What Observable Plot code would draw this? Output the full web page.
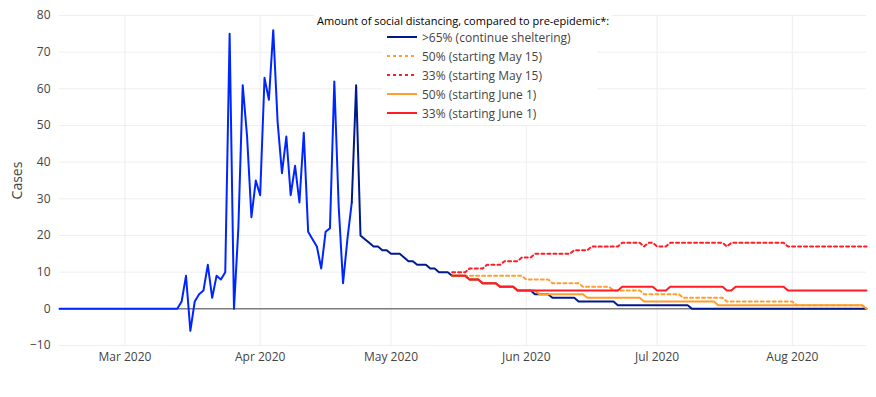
<!DOCTYPE html>
<html>
<head>
<meta charset="utf-8">
<script src="https://cdn.jsdelivr.net/npm/d3@7"></script>
<script src="https://cdn.jsdelivr.net/npm/@observablehq/plot@0.6"></script>
<style>
html, body { margin: 0; padding: 0; background: #fff; }
#wrap { position: relative; width: 876px; height: 397px; font-family: "Open Sans", sans-serif; }
.lg-title { position: absolute; left: 314px; top: 13px; padding: 0 3px; height: 16px; background: #fff; font-size: 11px; color: #000; line-height: 16px; white-space: nowrap; }
.lg-box { position: absolute; left: 383px; top: 28px; width: 214px; height: 97px; background: #fff; }
.lg-item { position: absolute; left: 4px; height: 19px; display: flex; align-items: center; font-size: 12px; color: #444; white-space: nowrap; }
.lg-item svg { margin-right: 5px; }
</style>
</head>
<body>
<div id="wrap"></div>
<script>
// ---------- data (daily values) ----------
const observedStart = "2020-02-15";
const observed = [
  0,0,0,0,0,0,0,0,0,0,0,0,0,0,0,
  0,0,0,0,0,0,0,0,0,0,0,0,0,
  2,9,-6,2,4,5,12,3,9,8,10,75,0,22,61,47,25,35,
  31,63,57,76,51,37,47,31,39,29,48,21,19,17,11,21,22,62,28,7,19,29
];

const shelteringStart = "2020-04-22";
const sheltering = [
  29,61,20,19,18,17,17,16,16,
  15,15,15,14,13,13,12,12,12,11,11,10,10,10,9,9,9,9,8,8,8,7,7,7,7,6,6,6,6,5,5,
  5,5,4,4,4,4,3,3,3,3,3,3,2,2,2,2,2,2,2,2,2,1,1,1,1,1,1,1,1,1,
  1,1,1,1,1,1,1,1,0,0,0,0,0,0,0,0,0,0,0,0,0,0,0,0,0,0,0,0,0,0,0,
  0,0,0,0,0,0,0,0,0,0,0,0,0,0,0,0,0,0
];

const scenarioStart = "2020-05-15";
const may15At50 = [
  9,9,9,9,9,9,9,9,9,9,9,9,9,9,9,9,9,
  8,8,8,8,8,8,7,7,7,7,7,7,7,6,6,6,6,6,6,6,5,5,5,5,5,5,5,4,4,4,
  4,4,4,4,4,4,3,3,3,3,3,3,3,3,3,3,2,2,2,2,2,2,2,2,2,2,2,2,2,2,2,
  2,1,1,1,1,1,1,1,1,1,1,1,1,1,1,1,1,0
];
const may15At33 = [
  10,10,10,10,11,11,11,11,12,12,12,12,13,13,13,13,14,
  14,14,15,15,15,15,15,15,15,15,15,16,16,16,16,17,17,17,17,17,17,17,18,18,18,18,18,17,18,18,
  17,17,17,18,18,18,18,18,18,18,18,18,18,18,18,18,17,18,18,18,18,18,18,18,18,18,18,18,18,18,17,
  17,17,17,17,17,17,17,17,17,17,17,17,17,17,17,17,17,17
];
const june1At50 = [
  9,9,9,9,8,8,8,7,7,7,7,6,6,6,6,5,5,
  5,5,5,4,4,4,4,4,4,4,4,4,4,4,3,3,3,3,3,3,3,3,3,3,3,3,3,2,2,2,
  2,2,2,2,2,2,2,2,2,2,2,2,2,2,1,1,1,1,1,1,1,1,1,1,1,1,1,1,1,1,1,
  1,1,1,1,1,1,1,1,1,1,1,1,1,1,1,1,1,0
];
const june1At33 = [
  9,9,9,9,8,8,8,7,7,7,7,6,6,6,6,5,5,
  5,5,5,5,5,5,5,5,5,5,5,5,5,5,5,5,5,5,5,5,5,5,6,6,6,6,6,6,6,6,
  5,5,5,6,6,6,6,6,6,6,6,6,6,6,6,6,5,5,6,6,6,6,6,6,6,6,6,6,6,6,5,
  5,5,5,5,5,5,5,5,5,5,5,5,5,5,5,5,5,5
];

const legendTitle = "Amount of social distancing, compared to pre-epidemic*:";
const seriesLabels = [
  ">65% (continue sheltering)",
  "50% (starting May 15)",
  "33% (starting May 15)",
  "50% (starting June 1)",
  "33% (starting June 1)"
];
const monthTicks = ["2020-03-01","2020-04-01","2020-05-01","2020-06-01","2020-07-01","2020-08-01"];
const yTicks = [-10,0,10,20,30,40,50,60,70,80];
const yLabel = "Cases";

// ---------- styles ----------
const observedColor = "#0026ff";
const colors = ["#001a8c", "#ff9e2c", "#ff1c24", "#ff9e2c", "#ff1c24"];
const dashes = [null, "3,3", "3,3", null, null];

const DAY = 864e5;
function toRows(start, values) {
  const t0 = Date.parse(start + "T00:00:00Z");
  return values.map((v, i) => ({date: new Date(t0 + i * DAY), value: v}));
}

const scenarioSeries = [
  toRows(shelteringStart, sheltering),
  toRows(scenarioStart, may15At50),
  toRows(scenarioStart, may15At33),
  toRows(scenarioStart, june1At50),
  toRows(scenarioStart, june1At33)
];
const tickDates = monthTicks.map(d => new Date(d + "T00:00:00Z"));

const chart = Plot.plot({
  width: 876,
  height: 397,
  marginTop: 15,
  marginBottom: 52,
  marginLeft: 59,
  marginRight: 10,
  style: {fontFamily: "Open Sans", fontSize: "12px", color: "#444", background: "#fff", overflow: "visible"},
  x: {type: "utc", domain: [new Date("2020-02-15T00:00:00Z"), new Date("2020-08-18T00:00:00Z")], label: null},
  y: {domain: [-10, 80], label: null},
  marks: [
    Plot.gridX(tickDates, {stroke: "#eee", strokeOpacity: 1}),
    Plot.gridY(yTicks, {stroke: "#eee", strokeOpacity: 1}),
    Plot.ruleY([0], {stroke: "#444", strokeWidth: 1}),
    Plot.axisX(tickDates, {tickSize: 0, tickPadding: 7, tickFormat: d3.utcFormat("%b %Y"), label: null, fill: "#444"}),
    Plot.axisY(yTicks, {tickSize: 0, tickPadding: 9, label: null, fill: "#444"}),
    Plot.text([yLabel], {frameAnchor: "left", dx: -42, rotate: -90, text: d => d, fontSize: 14, fill: "#444", textAnchor: "middle"}),
    Plot.line(toRows(observedStart, observed), {x: "date", y: "value", stroke: observedColor, strokeWidth: 2}),
    ...scenarioSeries.map((rows, i) => Plot.line(rows, {x: "date", y: "value", stroke: colors[i], strokeWidth: 2, strokeDasharray: dashes[i] || undefined}))
  ]
});

const wrap = document.getElementById("wrap");
wrap.appendChild(chart);

// legend
const title = document.createElement("div");
title.className = "lg-title";
title.textContent = legendTitle;
wrap.appendChild(title);
const box = document.createElement("div");
box.className = "lg-box";
seriesLabels.forEach((label, i) => {
  const item = document.createElement("div");
  item.className = "lg-item";
  item.style.top = (i * 19 - 0.5) + "px";
  const ns = "http://www.w3.org/2000/svg";
  const svg = document.createElementNS(ns, "svg");
  svg.setAttribute("width", 30); svg.setAttribute("height", 6);
  const ln = document.createElementNS(ns, "line");
  ln.setAttribute("x1", 0); ln.setAttribute("x2", 30); ln.setAttribute("y1", 3); ln.setAttribute("y2", 3);
  ln.setAttribute("stroke", colors[i]); ln.setAttribute("stroke-width", 2);
  if (dashes[i]) ln.setAttribute("stroke-dasharray", dashes[i]);
  svg.appendChild(ln);
  item.appendChild(svg);
  const span = document.createElement("span");
  span.textContent = label;
  item.appendChild(span);
  box.appendChild(item);
});
wrap.appendChild(box);
</script>
</body>
</html>
